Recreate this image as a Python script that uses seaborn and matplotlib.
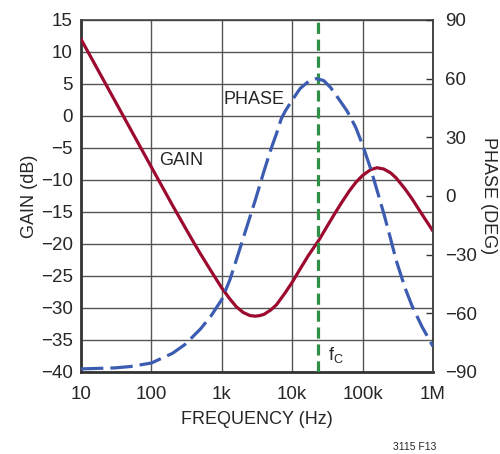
import matplotlib
matplotlib.use("Agg")
import matplotlib.pyplot as plt
import seaborn as sns
import numpy as np
import pandas as pd

# values
gain_freq = [10, 100, 200, 300, 400, 500, 700, 1e3, 1.3e3, 1.6e3, 2e3, 2.5e3, 3e3, 3.5e3,
             4e3, 5e3, 6e3, 8e3, 1e4, 1.3e4, 1.7e4, 2.4e4, 3e4, 4e4, 5e4, 6.5e4, 8e4,
             1e5, 1.3e5, 1.6e5, 2e5, 2.5e5, 3e5, 4e5, 5e5, 7e5, 1e6]
gain_db = [12, -8, -14, -17.4, -19.8, -21.6, -24.2, -26.9, -28.6, -29.8, -30.7, -31.2, -31.3, -31.2,
           -31.0, -30.3, -29.5, -27.6, -26.0, -23.9, -21.8, -19.4, -17.6, -15.3, -13.6, -11.7, -10.4,
           -9.3, -8.4, -8.1, -8.3, -8.9, -9.7, -11.4, -12.9, -15.4, -18]

phase_freq = [10, 30, 50, 100, 200, 300, 500, 700, 1e3, 1.3e3, 1.6e3, 2e3, 2.5e3, 3e3,
              4e3, 5e3, 6e3, 7e3, 8e3, 1e4, 1.3e4, 1.7e4, 2.2e4, 2.8e4, 3.5e4, 4.5e4,
              6e4, 7e4, 8e4, 1e5, 1.3e5, 1.6e5, 2e5, 2.5e5, 3e5, 4e5, 5e5, 7e5, 1e6]
phase_deg = [-88.5, -88, -87.3, -85.5, -80.5, -76, -68, -61.5, -53, -43, -33, -22, -11, -2,
             13, 24, 32, 39.5, 43.5, 49, 55, 58.5, 60, 59, 55.5, 50,
             43.5, 39, 35, 26, 14, 3, -9, -22, -33, -47, -56, -67, -77]

fc = 2.3e4
x_ticks = [10, 100, 1e3, 1e4, 1e5, 1e6]
x_labels = ["10", "100", "1k", "10k", "100k", "1M"]

gain = pd.DataFrame({"freq": gain_freq, "gain": gain_db})
phase = pd.DataFrame({"freq": phase_freq, "phase": phase_deg})

sns.set_style("white")
plt.rcParams["font.family"] = ["Liberation Sans", "DejaVu Sans"]

red = "#9c0a30"
blue = "#3b5cb0"
green = "#2f8f47"
grid = "#555555"

fig = plt.figure(figsize=(5, 4.54), dpi=100)
ax = fig.add_axes([0.162, 0.181, 0.704, 0.775])
ax2 = ax.twinx()

sns.lineplot(data=gain, x="freq", y="gain", ax=ax, color=red, lw=2.3, zorder=4)
sns.lineplot(data=phase, x="freq", y="phase", ax=ax2, color=blue, lw=2.3, zorder=3)
ax2.lines[0].set_dashes([7, 2.2])
ax.axvline(fc, color=green, lw=2.3, dashes=(3.5, 1.8), zorder=5)

ax.set_xscale("log")
ax.set_xlim(10, 1e6)
ax.set_ylim(-40, 15)
ax2.set_ylim(-90, 90)
ax.set_yticks(np.arange(-40, 16, 5))
ax.set_yticklabels([str(v).replace("-", "\u2212") for v in range(-40, 16, 5)])
ax2.set_yticks(np.arange(-90, 91, 30))
ax2.set_yticklabels([str(v).replace("-", "\u2212") for v in range(-90, 91, 30)])
ax.set_xticks(x_ticks)
ax.set_xticklabels(x_labels)
ax.xaxis.set_minor_locator(matplotlib.ticker.NullLocator())

ax.grid(True, which="major", color=grid, lw=1.0)
ax.set_axisbelow(True)
ax.tick_params(axis="y", length=0, labelsize=13.5, pad=6)
ax.tick_params(axis="x", length=0, labelsize=13.5, pad=10)
ax2.tick_params(axis="y", direction="in", length=5, width=1, color="#333333",
                labelsize=13.5, pad=9)

for s in ["left", "bottom"]:
    ax.spines[s].set_linewidth(2)
    ax.spines[s].set_color("#333333")
for s in ["top", "right"]:
    ax.spines[s].set_linewidth(1.2)
    ax.spines[s].set_color("#444444")
ax2.spines["left"].set_visible(False)
ax2.spines["bottom"].set_visible(False)
ax2.spines["top"].set_visible(False)
ax2.spines["right"].set_linewidth(1.2)
ax2.spines["right"].set_color("#444444")

ax.set_xlabel("FREQUENCY (Hz)", fontsize=13, labelpad=6)
ax.set_ylabel("GAIN (dB)", fontsize=13, labelpad=2)
ax2.set_ylabel("PHASE (DEG)", fontsize=13, rotation=-90, labelpad=14)

ax.text(265, -7, "GAIN", fontsize=13, ha="center", va="center")
ax.text(2.9e3, 2.5, "PHASE", fontsize=13, ha="center", va="center")
ax.text(3.2e4, -37.3, "f$_\\mathregular{C}$", fontsize=13, ha="left", va="center")
fig.text(0.786, 0.004, "3115 F13", fontsize=7.5, ha="left", va="bottom")

fig.savefig("out.png", dpi=100)
